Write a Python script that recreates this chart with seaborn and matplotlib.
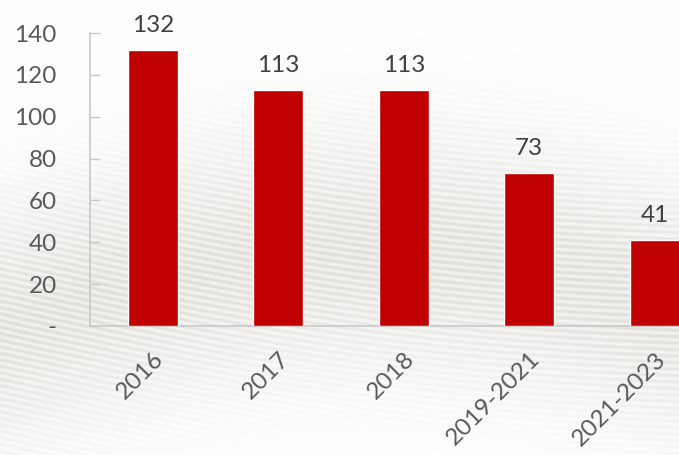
import numpy as np
import pandas as pd
import matplotlib
matplotlib.use("Agg")
import matplotlib.pyplot as plt
import seaborn as sns

categories = ["2016", "2017", "2018", "2019-2021", "2021-2023"]
values = [132, 113, 113, 73, 41]
ytick_values = [0, 20, 40, 60, 80, 100, 120, 140]
ytick_labels = ["-", "20", "40", "60", "80", "100", "120", "140"]

sns.set_theme(style="white")
plt.rcParams['font.family'] = ['Lato', 'DejaVu Sans']

df = pd.DataFrame({"cat": categories, "val": values})

fig = plt.figure(figsize=(6.79, 4.55), dpi=100)

# decorative wavy background
bg = fig.add_axes([0, 0, 1, 1], zorder=0)
H, W = 455, 679
yy, xx = np.mgrid[0:H, 0:W]
center = 320 - 70 * np.sin(xx / W * np.pi * 0.9) + 0.00008 * (xx - 300) ** 2
dist = (yy - center) / 120.0
band = np.exp(-dist ** 2)
stripes = 0.5 + 0.5 * np.sin((yy - 0.12 * xx - 25 * np.sin(xx / 260.0)) * 2 * np.pi / 6.5)
shade = band * (0.05 + 0.07 * stripes)
img = np.ones((H, W, 3))
img[..., 0] -= shade * 1.0
img[..., 1] -= shade * 1.05
img[..., 2] -= shade * 1.25
bg.imshow(np.clip(img, 0, 1), aspect='auto', extent=[0, W, H, 0])
bg.axis('off')

ax = fig.add_axes([90 / 679, (455 - 326) / 455, 627.5 / 679, 293 / 455], zorder=1)
ax.patch.set_alpha(0)
sns.barplot(data=df, x="cat", y="val", color="#C00000", width=0.4,
            saturation=1, ax=ax, zorder=3)
ax.set_xlim(-0.5, 4.5)
ax.set_ylim(0, 140)
ax.set_yticks(ytick_values)
ax.set_yticklabels(ytick_labels)
ax.set_xlabel("")
ax.set_ylabel("")

for s in ["top", "right"]:
    ax.spines[s].set_visible(False)
for s in ["left", "bottom"]:
    ax.spines[s].set_color("#c8c8c8")
    ax.spines[s].set_linewidth(1.2)

ax.tick_params(axis='y', direction='in', length=7, width=1, color="#c8c8c8",
               labelsize=17.5, labelcolor="#595959", pad=24, left=True)
ax.tick_params(axis='x', length=0, labelsize=17.5, labelcolor="#595959", pad=16)
for lab in ax.get_xticklabels():
    lab.set_rotation(45)
    lab.set_ha('right')
    lab.set_rotation_mode('anchor')

ax.bar_label(ax.containers[0], labels=[str(v) for v in values],
             padding=10, fontsize=17.5, color="#404040")

fig.savefig("out.png", dpi=100)
